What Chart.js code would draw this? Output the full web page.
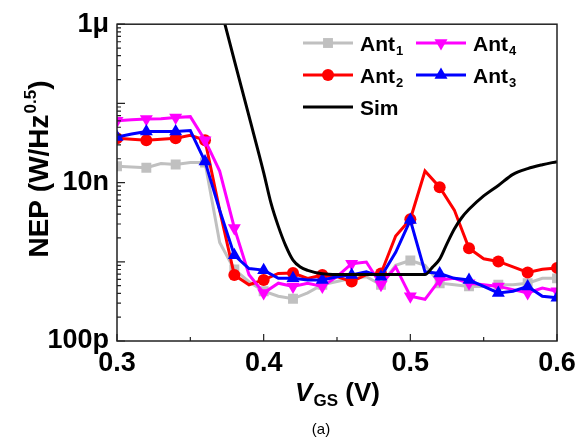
<!DOCTYPE html>
<html>
<head>
<meta charset="utf-8">
<script src="https://cdn.jsdelivr.net/npm/chart.js@4.4.1/dist/chart.umd.min.js"></script>
<style>
html, body { margin: 0; padding: 0; background: #fff; }
#wrap { width: 588px; height: 441px; position: relative; }
</style>
</head>
<body>
<div id="wrap"><canvas id="nepChart"></canvas></div>
<script>
// gate voltage sweep (V)
const vgs = [0.30, 0.31, 0.32, 0.33, 0.34, 0.35, 0.36, 0.37, 0.38, 0.39, 0.40,
             0.41, 0.42, 0.43, 0.44, 0.45, 0.46, 0.47, 0.48, 0.49, 0.50,
             0.51, 0.52, 0.53, 0.54, 0.55, 0.56, 0.57, 0.58, 0.59, 0.60];

// NEP in W/Hz^0.5
const ant1 = [1.61e-8, 1.57e-8, 1.54e-8, 1.74e-8, 1.69e-8, 1.79e-8, 1.79e-8, 1.75e-9, 8.0e-10, 5.6e-10, 4.25e-10,
              3.68e-10, 3.41e-10, 4.05e-10, 5.13e-10, 5.63e-10, 6.18e-10, 6.49e-10, 5.13e-10, 9.04e-10, 1.04e-9,
              9.04e-10, 5.37e-10, 5.13e-10, 4.89e-10, 4.89e-10, 5.13e-10, 5.13e-10, 5.37e-10, 6.18e-10, 6.18e-10];
const ant2 = [3.63e-8, 3.53e-8, 3.43e-8, 3.53e-8, 3.63e-8, 3.95e-8, 3.43e-8, 4.47e-9, 6.81e-10, 5.13e-10, 5.91e-10,
              7.13e-10, 7.2e-10, 6.18e-10, 6.81e-10, 6.49e-10, 5.63e-10, 6.87e-10, 7.13e-10, 2.12e-9, 3.45e-9,
              1.40e-8, 8.73e-9, 4.5e-9, 1.48e-9, 1.09e-9, 1.01e-9, 8.61e-10, 7.33e-10, 8.07e-10, 8.38e-10];
const ant3 = [3.77e-8, 4.1e-8, 4.43e-8, 4.43e-8, 4.43e-8, 4.55e-8, 1.85e-8, 4.5e-9, 1.21e-9, 8.21e-10, 7.85e-10,
              6.18e-10, 6.18e-10, 5.91e-10, 5.91e-10, 6.49e-10, 6.81e-10, 7.48e-10, 6.49e-10, 1.32e-9, 3.36e-9,
              7.48e-10, 7.13e-10, 6.18e-10, 5.91e-10, 4.89e-10, 4.05e-10, 4.25e-10, 4.89e-10, 3.68e-10, 3.51e-10];
const ant4 = [6.05e-8, 6.2e-8, 6.34e-8, 6.4e-8, 6.64e-8, 6.8e-8, 3.43e-8, 1.40e-8, 2.68e-9, 6.87e-10, 4.05e-10,
              5.37e-10, 4.89e-10, 5.37e-10, 4.89e-10, 6.49e-10, 9.46e-10, 9.93e-10, 5.13e-10, 8.61e-10, 3.68e-10,
              3.36e-10, 5.91e-10, 6.18e-10, 5.37e-10, 5.13e-10, 4.89e-10, 4.45e-10, 4.05e-10, 4.66e-10, 4.25e-10];

// simulation
const simVgs = [0.37, 0.38, 0.39, 0.40, 0.405, 0.41, 0.415, 0.42, 0.425, 0.43, 0.44, 0.45, 0.47, 0.49,
                0.51, 0.515, 0.52, 0.525, 0.53, 0.535, 0.54, 0.55, 0.56, 0.57, 0.58, 0.59, 0.60];
const simNep = [1.8e-6, 3.5e-7, 6.9e-8, 1.34e-8, 5.5e-9, 2.8e-9, 1.6e-9, 1.05e-9, 8.6e-10, 7.8e-10, 7.05e-10, 6.9e-10, 6.9e-10, 6.9e-10,
                6.9e-10, 8.5e-10, 1.08e-9, 1.7e-9, 2.6e-9, 3.6e-9, 4.6e-9, 6.8e-9, 9.2e-9, 1.27e-8, 1.5e-8, 1.68e-8, 1.84e-8];

const xTicks = [0.3, 0.4, 0.5, 0.6];
const xMinorTicks = [0.35, 0.45, 0.55];
const yTicks = [1e-10, 1e-8, 1e-6];
const yTickLabels = ['100p', '10n', '1\u03bc'];

const legendNames = ['Ant', 'Ant', 'Ant', 'Ant', 'Sim'];
const legendSubs = ['1', '2', '3', '4', ''];

const FONT = 'Arial, "Liberation Sans", sans-serif';

function pts(xs, ys) {
  return xs.map((x, i) => ({ x: x, y: ys[i] }));
}
const everyOther = r => ctx => (ctx.dataIndex % 2 === 0 ? r : 0);
const noClip = { left: 0, top: 0, right: 0, bottom: 0 };

const datasets = [
  { label: 'Ant1', data: pts(vgs, ant1), borderColor: '#c0c0c0', backgroundColor: '#c0c0c0',
    pointStyle: 'rect', pointRadius: everyOther(7), order: 5 },
  { label: 'Ant2', data: pts(vgs, ant2), borderColor: '#ff0000', backgroundColor: '#ff0000',
    pointStyle: 'circle', pointRadius: everyOther(6), order: 4 },
  { label: 'Ant3', data: pts(vgs, ant3), borderColor: '#0000ff', backgroundColor: '#0000ff',
    pointStyle: 'triangle', pointRadius: everyOther(7.5), order: 2 },
  { label: 'Ant4', data: pts(vgs, ant4), borderColor: '#ff00ff', backgroundColor: '#ff00ff',
    pointStyle: 'triangle', pointRotation: 180, pointRadius: everyOther(7.5), order: 3 },
  { label: 'Sim', data: pts(simVgs, simNep), borderColor: '#000', backgroundColor: '#000',
    pointRadius: 0, cubicInterpolationMode: 'monotone', order: 1 }
];
datasets.forEach(d => {
  d.borderWidth = 3;
  d.pointBorderWidth = 0;
  d.pointHoverRadius = 0;
  d.clip = noClip;
});

// legend slots: [dataset index, line x, row y]
const legendSlots = [[0, 303, 43], [3, 416, 43], [1, 303, 75], [2, 416, 75], [4, 303, 107]];

function marker(ctx, ds, x, y) {
  const r = typeof ds.pointRadius === 'function' ? ds.pointRadius({ dataIndex: 0 }) : ds.pointRadius;
  if (!r) return;
  ctx.fillStyle = ds.backgroundColor;
  ctx.beginPath();
  if (ds.pointStyle === 'rect') {
    const s = Math.SQRT1_2 * r;
    ctx.rect(x - s, y - s, 2 * s, 2 * s);
  } else if (ds.pointStyle === 'circle') {
    ctx.arc(x, y, r, 0, Math.PI * 2);
  } else {
    const rad = (ds.pointRotation || 0) * Math.PI / 180;
    for (let k = 0; k < 3; k++) {
      const a = rad + k * 2 * Math.PI / 3;
      const px = x + Math.sin(a) * r, py = y - Math.cos(a) * r;
      if (k === 0) ctx.moveTo(px, py); else ctx.lineTo(px, py);
    }
    ctx.closePath();
  }
  ctx.fill();
}

const decor = {
  id: 'decor',
  afterDatasetsDraw(chart) {
    const { ctx, chartArea: a, scales } = chart;
    const xs = scales.x, ys = scales.y;
    ctx.save();
    ctx.strokeStyle = '#222';
    ctx.lineWidth = 1.5;
    ctx.strokeRect(a.left, a.top, a.right - a.left, a.bottom - a.top);
    ctx.beginPath();
    // y ticks inside, decades long, minors short
    for (let d = -10; d <= -6; d++) {
      const yy = ys.getPixelForValue(Math.pow(10, d));
      ctx.moveTo(a.left, yy); ctx.lineTo(a.left + 8, yy);
      if (d < -6) {
        for (let m = 2; m <= 9; m++) {
          const ym = ys.getPixelForValue(m * Math.pow(10, d));
          ctx.moveTo(a.left, ym); ctx.lineTo(a.left + 4, ym);
        }
      }
    }
    xTicks.forEach(v => {
      const xx = xs.getPixelForValue(v);
      ctx.moveTo(xx, a.bottom); ctx.lineTo(xx, a.bottom - 7);
    });
    xMinorTicks.forEach(v => {
      const xx = xs.getPixelForValue(v);
      ctx.moveTo(xx, a.bottom); ctx.lineTo(xx, a.bottom - 4);
    });
    ctx.lineWidth = 1.2;
    ctx.stroke();
    ctx.restore();
  },
  afterDraw(chart) {
    const { ctx, chartArea: a } = chart;
    ctx.save();
    ctx.fillStyle = '#000';
    ctx.textBaseline = 'alphabetic';

    // legend
    legendSlots.forEach(([i, lx, ly]) => {
      const ds = chart.data.datasets[i];
      ctx.strokeStyle = ds.borderColor;
      ctx.lineWidth = 3;
      ctx.beginPath(); ctx.moveTo(lx, ly); ctx.lineTo(lx + 50, ly); ctx.stroke();
      marker(ctx, ds, lx + 25, ly);
      ctx.fillStyle = '#000';
      ctx.textAlign = 'left';
      ctx.font = 'bold 21px ' + FONT;
      const tx = lx + 57;
      ctx.fillText(legendNames[i], tx, ly + 7.5);
      if (legendSubs[i]) {
        const w = ctx.measureText(legendNames[i]).width;
        ctx.font = 'bold 13px ' + FONT;
        ctx.fillText(legendSubs[i], tx + w + 1, ly + 12);
      }
    });

    // x title: V_GS (V)
    const cx = (a.left + a.right) / 2;
    ctx.font = 'italic bold 26px ' + FONT;
    const wV = ctx.measureText('V').width;
    ctx.font = 'bold 17px ' + FONT;
    const wGS = ctx.measureText('GS').width;
    ctx.font = 'bold 26px ' + FONT;
    const wRest = ctx.measureText(' (V)').width;
    const x0 = cx - (wV + wGS + wRest) / 2;
    const by = 401;
    ctx.textAlign = 'left';
    ctx.font = 'italic bold 26px ' + FONT;
    ctx.fillText('V', x0, by);
    ctx.font = 'bold 17px ' + FONT;
    ctx.fillText('GS', x0 + wV + 1, by + 5);
    ctx.font = 'bold 26px ' + FONT;
    ctx.fillText(' (V)', x0 + wV + wGS + 1, by);

    // (a)
    ctx.font = '15px ' + FONT;
    ctx.textAlign = 'center';
    ctx.fillText('(a)', 321, 434);

    // y title: NEP (W/Hz^0.5)
    ctx.translate(48, 169);
    ctx.rotate(-Math.PI / 2);
    ctx.textAlign = 'left';
    ctx.font = 'bold 28px ' + FONT;
    const w1 = ctx.measureText('NEP (W/Hz').width;
    const w3 = ctx.measureText(')').width;
    ctx.font = 'bold 17px ' + FONT;
    const w2 = ctx.measureText('0.5').width;
    const s = -(w1 + w2 + w3 + 1) / 2;
    ctx.font = 'bold 28px ' + FONT;
    ctx.fillText('NEP (W/Hz', s, 0);
    ctx.font = 'bold 17px ' + FONT;
    ctx.fillText('0.5', s + w1 + 1, -12);
    ctx.font = 'bold 28px ' + FONT;
    ctx.fillText(')', s + w1 + w2 + 1, 0);
    ctx.restore();
  }
};

const tickFont = { family: FONT, size: 27, weight: 'bold' };

new Chart(document.getElementById('nepChart'), {
  type: 'line',
  data: { datasets: datasets },
  options: {
    responsive: true,
    maintainAspectRatio: false,
    animation: false,
    devicePixelRatio: 1,
    layout: { padding: { left: 0, top: 16, right: 31, bottom: 0 } },
    plugins: { legend: { display: false }, tooltip: { enabled: false } },
    scales: {
      x: {
        type: 'linear', min: 0.3, max: 0.6,
        afterBuildTicks: s => { s.ticks = xTicks.map(v => ({ value: v })); },
        afterFit: s => { s.height = 100; },
        ticks: { callback: v => v.toFixed(1), font: tickFont, color: '#000', padding: 6, maxRotation: 0, autoSkip: false },
        grid: { display: false, drawTicks: false },
        border: { display: false }
      },
      y: {
        type: 'logarithmic', min: 1e-10, max: 1e-6,
        afterBuildTicks: s => { s.ticks = yTicks.map(v => ({ value: v })); },
        afterFit: s => { s.width = 117; },
        ticks: { callback: v => yTickLabels[yTicks.indexOf(v)], font: tickFont, color: '#000', padding: 8, autoSkip: false },
        grid: { display: false, drawTicks: false },
        border: { display: false }
      }
    }
  },
  plugins: [decor]
});
</script>
</body>
</html>
